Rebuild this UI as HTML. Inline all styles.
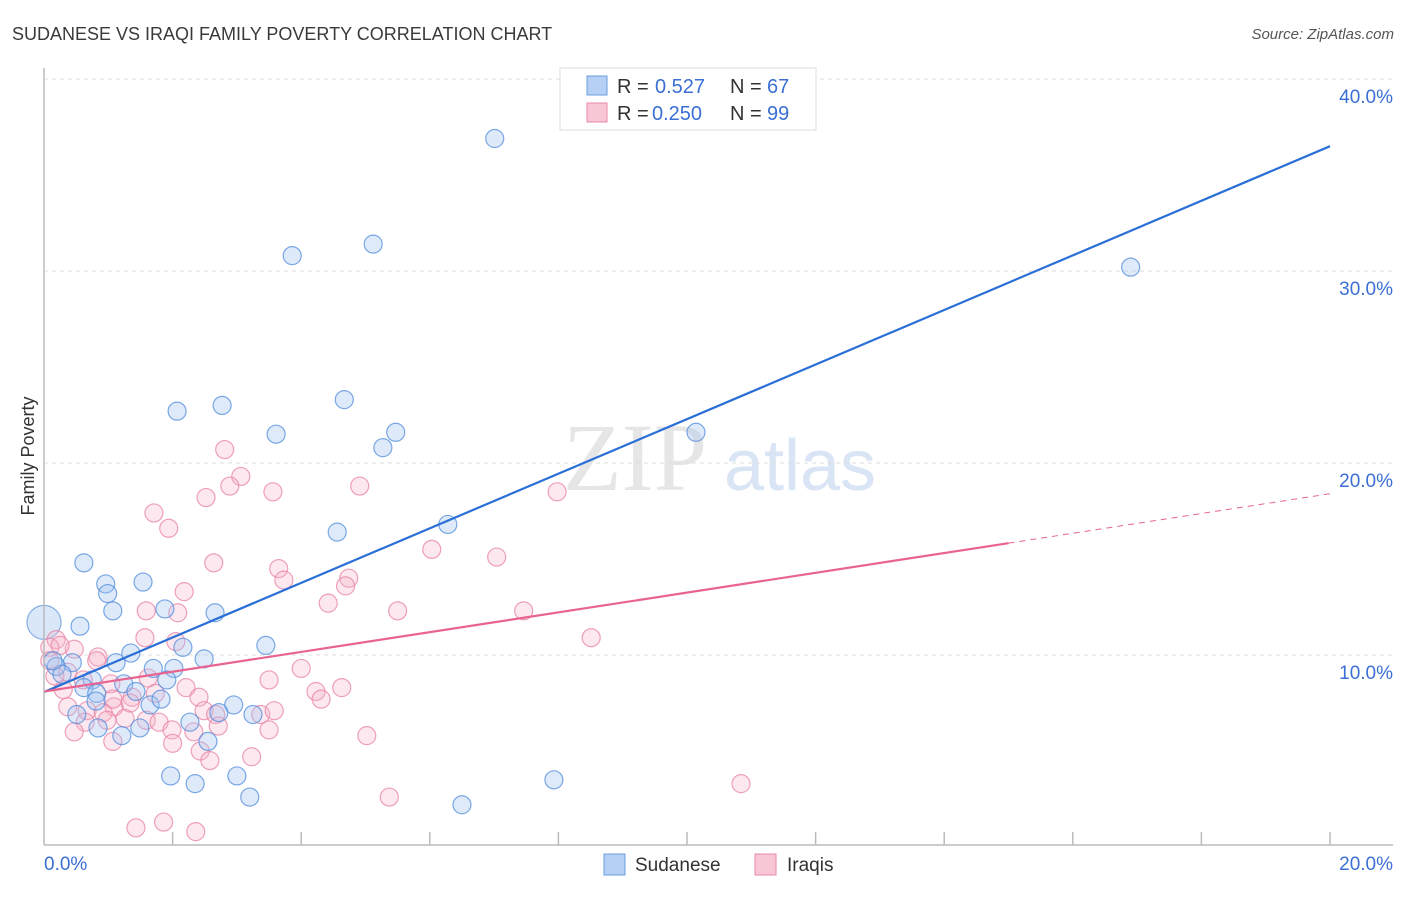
<!DOCTYPE html>
<html><head><meta charset="utf-8"><style>
body{margin:0;background:#fff;font-family:"Liberation Sans",sans-serif}
</style></head><body>
<svg id="c" width="1406" height="892" xmlns="http://www.w3.org/2000/svg">
<text x="12" y="40" font-size="18" fill="#3a3a3a">SUDANESE VS IRAQI FAMILY POVERTY CORRELATION CHART</text>
<text x="1394" y="39" font-size="15" fill="#555" text-anchor="end" font-style="italic">Source: ZipAtlas.com</text>
<text x="34" y="456" font-size="18" fill="#333" text-anchor="middle" transform="rotate(-90 34 456)">Family Poverty</text>
<g>
<text x="635" y="490" font-size="96" font-family="Liberation Serif,serif" fill="#e6e6e6" text-anchor="middle">ZIP</text>
<text x="800" y="490" font-size="72" fill="#d9e4f5" text-anchor="middle">atlas</text>
</g>
<g id="grid"></g><g id="pts"></g><g id="lines"></g>
<line x1="44" y1="68" x2="44" y2="845" stroke="#bbb" stroke-width="1.5"/>
<line x1="44" y1="845" x2="1393" y2="845" stroke="#bbb" stroke-width="1.5"/>
<text x="44" y="870" font-size="19" fill="#3b6fd4">0.0%</text>
<text x="1393" y="870" font-size="19" fill="#3b6fd4" text-anchor="end">20.0%</text>
<g>
<rect x="560" y="68" width="256" height="62" fill="#fff" stroke="#ddd"/>
<rect x="587" y="76" width="20" height="19" fill="#b5d0f4" stroke="#6a9ee0"/>
<rect x="587" y="103" width="20" height="19" fill="#f9c6d5" stroke="#e88aa8"/>
<text x="617" y="93" font-size="20" fill="#333">R =</text><text x="655" y="93" font-size="20" fill="#3b6fd4">0.527</text>
<text x="730" y="93" font-size="20" fill="#333">N =</text><text x="767" y="93" font-size="20" fill="#3b6fd4">67</text>
<text x="617" y="120" font-size="20" fill="#333">R =</text><text x="652" y="120" font-size="20" fill="#3b6fd4">0.250</text>
<text x="730" y="120" font-size="20" fill="#333">N =</text><text x="767" y="120" font-size="20" fill="#3b6fd4">99</text>
</g>
<g>
<rect x="604" y="854" width="21" height="21" fill="#b5d0f4" stroke="#6a9ee0"/>
<text x="635" y="871" font-size="19" fill="#333">Sudanese</text>
<rect x="755" y="854" width="21" height="21" fill="#f9c6d5" stroke="#e88aa8"/>
<text x="787" y="871" font-size="19" fill="#333">Iraqis</text>
</g>
</svg>
<script>
const yTicks=[10,20,30,40];
const xTickCount=10;
const blueX=[7.01,3.86,5.12,16.9,2.07,2.77,3.61,4.67,5.27,5.47,10.14,6.28,4.56,0.62,0.96,0.99,1.54,1.07,1.88,2.66,0.56,3.45,2.16,1.35,2.49,0.44,0.19,1.12,1.70,2.02,0.75,1.24,1.91,0.62,0.82,1.43,0.28,1.65,1.82,2.95,2.72,3.25,2.27,0.84,1.49,1.21,2.55,0.51,1.97,2.35,3.0,3.20,6.50,7.93,0.14,0.81];
const blueY=[36.9,30.8,31.4,30.2,22.7,23.0,21.5,23.3,20.8,21.6,21.6,16.8,16.4,14.8,13.7,13.2,13.8,12.3,12.4,12.2,11.5,10.5,10.4,10.1,9.8,9.6,9.4,9.6,9.3,9.3,8.7,8.5,8.7,8.3,8.0,8.1,9.0,7.4,7.7,7.4,7.0,6.9,6.5,6.2,6.2,5.8,5.5,6.9,3.7,3.3,3.7,2.6,2.2,3.5,9.7,7.6];
const pinkX=[2.81,3.06,2.89,2.52,3.56,4.91,7.98,1.71,1.94,6.03,7.04,2.64,3.65,3.73,4.74,4.69,2.18,4.42,5.50,7.46,2.08,1.59,1.57,2.05,8.51,0.19,0.09,0.47,0.84,0.82,4.0,1.62,2.21,3.50,4.23,4.63,4.31,2.41,0.30,1.04,1.73,1.37,1.09,0.37,0.67,0.92,1.26,2.49,2.67,3.37,3.58,0.64,0.98,1.59,1.79,1.99,2.33,2.71,3.50,0.47,1.07,2.00,2.43,2.58,3.23,5.02,5.37,10.84,1.43,1.86,2.36,0.37,0.17,0.61,1.07,0.09,0.25,1.34];
const pinkY=[20.7,19.3,18.8,18.2,18.5,18.8,18.5,17.4,16.6,15.5,15.1,14.8,14.5,13.9,14.0,13.6,13.3,12.7,12.3,12.3,12.2,12.3,10.9,10.7,10.9,10.8,10.4,10.3,9.9,9.7,9.3,8.8,8.3,8.7,8.1,8.3,7.7,7.8,8.2,8.5,8.0,7.8,7.3,7.3,7.1,7.0,6.7,7.1,6.9,6.9,7.1,6.5,6.6,6.6,6.5,6.1,6.0,6.3,6.1,6.0,5.5,5.4,5.0,4.5,4.7,5.8,2.6,3.3,1.0,1.3,0.8,9.1,8.9,8.7,7.7,9.7,10.5,7.5];
const bigBlue=[0,11.7];
const blueTrend=[8.07,36.5];
const pinkTrend=[8.1,18.4];
const pinkSolidEnd=15.0;
const sx=v=>44+v/20*1286, sy=v=>847-v*19.2;
const NS="http://www.w3.org/2000/svg";
function mk(t,a,p){const e=document.createElementNS(NS,t);for(const k in a)e.setAttribute(k,a[k]);p.appendChild(e);return e;}
const g=document.getElementById('grid');
yTicks.forEach(t=>{
 const l=mk('line',{x1:44,x2:1393,y1:sy(t),y2:sy(t),stroke:'#ddd','stroke-dasharray':'4,4'},g);
 
 
 const tx=mk('text',{x:1393,y:sy(t)+24,'font-size':19,fill:'#3b6fd4','text-anchor':'end'},g);
 tx.textContent=t.toFixed(1)+'%';
 
 
});
for(let i=1;i<=xTickCount;i++){
 const l=mk('line',{x1:sx(i*2),x2:sx(i*2),y1:832,y2:845,stroke:'#bbb','stroke-width':1.5},g);
 
 
}
const p=document.getElementById('pts');
function dot(x,y,r,f,s,name){
 const c=mk('circle',{cx:sx(x),cy:sy(y),r:r,fill:f,stroke:s,'stroke-width':1.2},p);
 
 
}
dot(bigBlue[0],bigBlue[1],17,'rgba(160,196,240,0.4)','rgba(90,146,220,0.7)','sudanese-point');
pinkX.forEach((x,i)=>dot(x,pinkY[i],9,'rgba(246,180,200,0.3)','rgba(232,130,165,0.75)','iraqi-point'));
blueX.forEach((x,i)=>dot(x,blueY[i],9,'rgba(160,196,240,0.35)','rgba(80,140,220,0.75)','sudanese-point'));
const L=document.getElementById('lines');
const bl=mk('line',{x1:sx(0),y1:sy(blueTrend[0]),x2:sx(20),y2:sy(blueTrend[1]),stroke:'#2a6fd6','stroke-width':2.2},L);


const pe=pinkTrend[0]+(pinkTrend[1]-pinkTrend[0])*pinkSolidEnd/20;
const pl=mk('line',{x1:sx(0),y1:sy(pinkTrend[0]),x2:sx(pinkSolidEnd),y2:sy(pe),stroke:'#e8638f','stroke-width':2.2},L);


const pd=mk('line',{x1:sx(pinkSolidEnd),y1:sy(pe),x2:sx(20),y2:sy(pinkTrend[1]),stroke:'#e8638f','stroke-width':1,'stroke-dasharray':'6,5'},L);


</script>
</body></html>
